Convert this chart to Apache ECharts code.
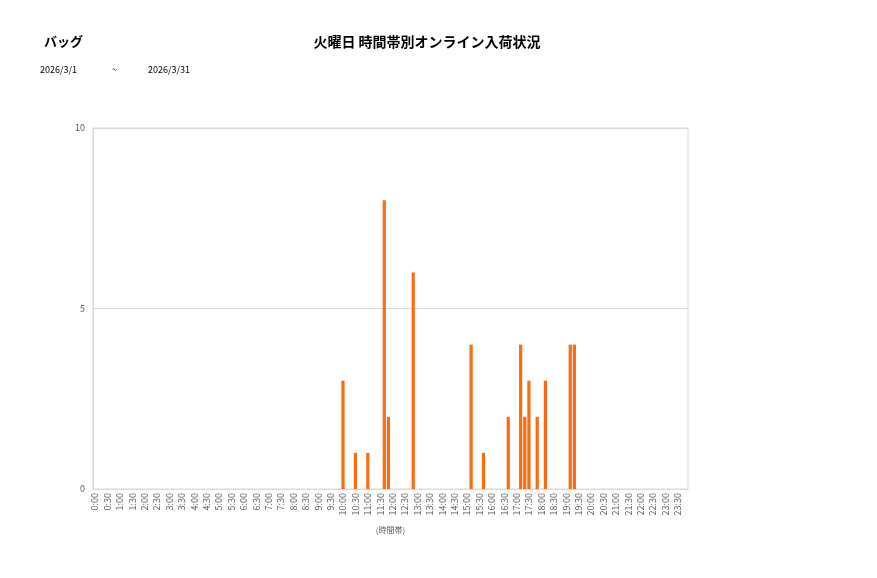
<!DOCTYPE html>
<html>
<head>
<meta charset="utf-8">
<script src="https://cdn.jsdelivr.net/npm/echarts@6/dist/echarts.min.js"></script>
<style>
  html, body { margin: 0; padding: 0; background: #fff; }
  #chart { width: 877px; height: 578px; }
</style>
</head>
<body>
<div id="chart"></div>
<script>
// 10分刻みの時間帯（0:00〜23:50）
const timeSlots = [];
for (let h = 0; h < 24; h++) {
  for (let m = 0; m < 60; m += 10) {
    timeSlots.push(h + ':' + (m === 0 ? '00' : m));
  }
}

// 入荷があった時間帯と件数
const arrivalTimes = ['10:00', '10:30', '11:00', '11:40', '11:50', '12:50', '15:10', '15:40',
  '16:40', '17:10', '17:20', '17:30', '17:50', '18:10', '19:10', '19:20'];
const arrivalCounts = [3, 1, 1, 8, 2, 6, 4, 1, 2, 4, 2, 3, 2, 3, 4, 4];

const yTicks = [0, 5, 10];

const categoryName = 'バッグ';
const chartTitle = '火曜日 時間帯別オンライン入荷状況';
const dateFrom = '2026/3/1';
const dateTo = '2026/3/31';

// 時間帯ごとの件数
let seriesData = timeSlots.map(t => {
  let idx = arrivalTimes.indexOf(t);
  return idx >= 0 ? arrivalCounts[idx] : 0;
});

let chart = echarts.init(document.getElementById('chart'));
const jpFont = '"Noto Sans CJK JP", "Noto Sans", sans-serif';

// 見出しテキスト
const headText = (text, left, top, size, bold, align) => ({
  text: text,
  left: left,
  top: top,
  padding: 0,
  textAlign: align || 'left',
  textStyle: {
    fontSize: size,
    fontWeight: bold ? 'bold' : 'normal',
    color: '#000',
    fontFamily: jpFont
  }
});

chart.setOption({
  animation: false,
  textStyle: { fontFamily: jpFont },
  title: [
    headText(categoryName, 44, 35, 13, true),
    headText(chartTitle, 427, 35, 14, true, 'center'),
    headText(dateFrom, 40, 65, 9, false),
    headText('~', 112, 65, 9, false),
    headText(dateTo, 148, 65, 9, false)
  ],
  grid: {
    left: 93,
    right: 189,
    top: 128,
    bottom: 89,
    show: true,
    borderColor: '#d9d9d9',
    borderWidth: 1
  },
  xAxis: {
    type: 'category',
    data: timeSlots,
    name: '(時間帯)',
    nameLocation: 'middle',
    nameGap: 37,
    nameTextStyle: { fontSize: 8, color: '#595959' },
    axisLine: { lineStyle: { color: '#d9d9d9' } },
    axisTick: { show: false },
    axisLabel: {
      interval: 2,
      rotate: 90,
      fontSize: 9,
      color: '#595959',
      margin: 4
    }
  },
  yAxis: {
    type: 'value',
    min: yTicks[0],
    max: yTicks[yTicks.length - 1],
    interval: 5,
    axisLine: { show: true, lineStyle: { color: '#d9d9d9' } },
    axisTick: { show: false },
    axisLabel: { fontSize: 9, color: '#595959', margin: 8 },
    splitLine: { lineStyle: { color: '#d9d9d9' } }
  },
  series: [
    {
      type: 'bar',
      data: seriesData,
      barCategoryGap: '22%',
      itemStyle: { color: '#F96C12' }
    }
  ]
});
</script>
</body>
</html>
